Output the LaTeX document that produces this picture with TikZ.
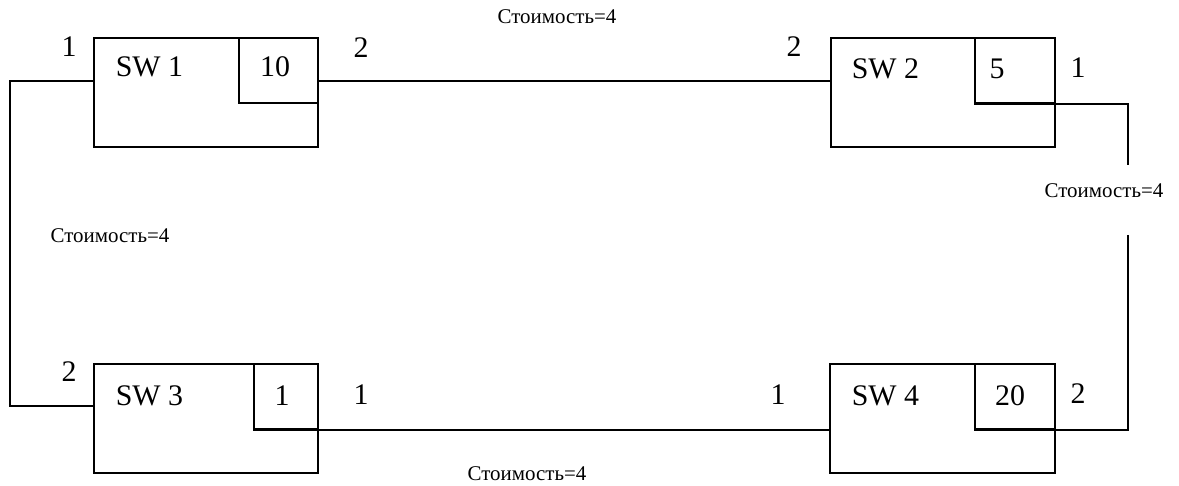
\documentclass[tikz,border=0pt]{standalone}
\usepackage{fontspec}
\setmainfont{Liberation Serif}
\usetikzlibrary{calc}
\begin{document}
\begin{tikzpicture}[x=1bp, y=-1bp, line width=1.7bp,
  switchbox/.style={draw, rectangle, inner sep=0pt, anchor=north west,
    minimum width=224bp, minimum height=109bp},
  priobox/.style={draw, rectangle, inner sep=0pt, anchor=north east,
    minimum height=65bp},
  bigtext/.style={font=\fontsize{30}{36}\selectfont, inner sep=0pt},
  costtext/.style={font=\fontsize{21}{25}\selectfont, inner sep=0pt, anchor=base}]
\useasboundingbox (0,0) rectangle (1179,486);

% switches
\node[switchbox] (sw1) at (93,37) {};
\node[switchbox] (sw2) at (830,37) {};
\node[switchbox] (sw3) at (93,363) {};
\node[switchbox, minimum width=225bp] (sw4) at (829,363) {};

% priority boxes
\node[priobox, minimum width=79bp] (pr1) at (sw1.north east) {};
\node[priobox, minimum width=80bp] (pr2) at (sw2.north east) {};
\node[priobox, minimum width=64bp] (pr3) at (sw3.north east) {};
\node[priobox, minimum width=80bp] (pr4) at (sw4.north east) {};

% switch names
\node[bigtext, anchor=base west] (n1) at (115,77) {SW 1};
\node[bigtext, anchor=base west] (n2) at (851,79) {SW 2};
\node[bigtext, anchor=base west] (n3) at (115,405) {SW 3};
\node[bigtext, anchor=base west] (n4) at (851,405) {SW 4};

% priorities
\node[bigtext, anchor=base] (v1) at (275,77) {10};
\node[bigtext, anchor=base] (v2) at (997,79) {5};
\node[bigtext, anchor=base] (v3) at (282,405) {1};
\node[bigtext, anchor=base] (v4) at (1010,405) {20};

% port numbers
\node[bigtext, anchor=base] (p11) at (69,57) {1};
\node[bigtext, anchor=base] (p12) at (361,58) {2};
\node[bigtext, anchor=base] (p22) at (794,57) {2};
\node[bigtext, anchor=base] (p21) at (1078,78) {1};
\node[bigtext, anchor=base] (p32) at (69,382) {2};
\node[bigtext, anchor=base] (p31) at (361,404) {1};
\node[bigtext, anchor=base] (p41) at (778,404) {1};
\node[bigtext, anchor=base] (p42) at (1078,403) {2};

% link costs
\node[costtext] (c12) at (557,24) {Стоимость=4};
\node[costtext] (c13) at (110,243) {Стоимость=4};
\node[costtext] (c24) at (1104,198) {Стоимость=4};
\node[costtext] (c34) at (527,480) {Стоимость=4};

% links
\coordinate (gapT) at (1128,165);
\coordinate (gapB) at (1128,235);
\draw ($(sw1.north west)+(0,44)$) -- ++(-83,0) |- ($(sw3.north west)+(0,43)$);
\draw ($(sw1.north east)+(0,44)$) -- ($(sw2.north west)+(0,44)$);
\draw (pr2.south west) -| (gapT);
\draw (gapB) |- (pr4.south west);
\draw (pr3.south west) -- (sw4.north west |- pr3.south west);
\end{tikzpicture}
\end{document}
